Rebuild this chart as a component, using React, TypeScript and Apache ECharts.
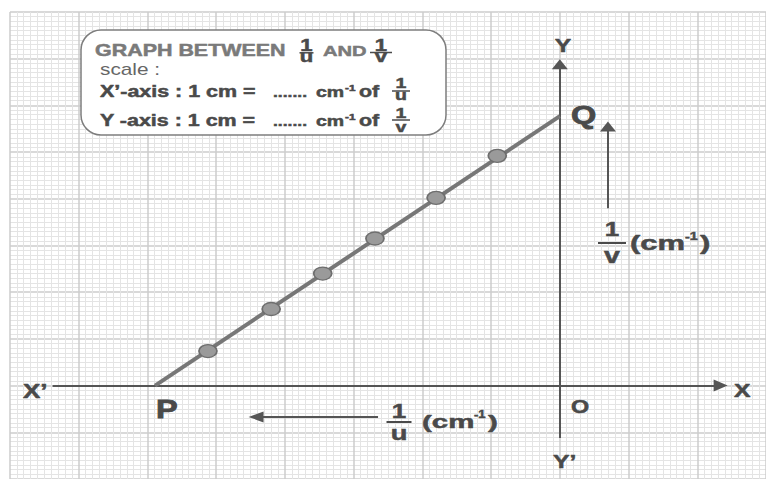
import React, { useEffect, useRef } from 'react';
import * as echarts from 'echarts';

// Axis ranges in grid squares (1 square = 1 cm on the paper)
const xRange = [-8, 3];
const yRange = [-2, 8];

// Intercepts of the best-fit line
const pointP = [-5.89, 0];
const pointQ = [0, 5.77];

// Plotted observations (1/u, 1/v) in grid squares
const obsX = [-5.12, -4.2, -3.45, -2.69, -1.8, -0.91];
const obsY = [0.74, 1.64, 2.4, 3.15, 4.02, 4.92];

// Extents of the drawn X'X and YY' axes
const xAxisSpan = [-7.38, 2.34];
const yAxisSpan = [-1.12, 6.88];

// Direction arrows beside the axis titles
const uArrow = { y: -0.67, from: -2.645, to: -4.42 };
const vArrow = { x: 0.7, from: 3.8, to: 5.55 };

const FONT = '"Liberation Sans", Arial, Helvetica, sans-serif';
const SX = 1.3;
const DARK = '#4a4a4a';

type LabelOpts = { weight?: string; color?: string; align?: string; sx?: number; heavy?: number };

function label(text: string, x: number, baseline: number, fs: number, opts: LabelOpts = {}) {
  const { weight = 'bold', color = DARK, align = 'left', sx = SX, heavy = 0.5 } = opts;
  return {
    type: 'text',
    x,
    y: baseline - 0.3465 * fs,
    scaleX: sx,
    z: 100,
    silent: true,
    style: {
      text,
      fill: color,
      stroke: heavy > 0 ? color : undefined,
      lineWidth: heavy,
      fontSize: fs,
      fontWeight: weight,
      fontFamily: FONT,
      align,
      verticalAlign: 'middle',
      textAlign: align,
      textVerticalAlign: 'middle',
    },
  };
}

function bar(x1: number, x2: number, y: number, lw = 1.5, color = DARK) {
  return {
    type: 'line',
    z: 100,
    silent: true,
    shape: { x1, y1: y, x2, y2: y },
    style: { stroke: color, lineWidth: lw },
  };
}

function fraction(cx: number, numBase: number, barY: number, barW: number, denBase: number, den: string, fs: number, denFs = fs) {
  return [
    label('1', cx, numBase, fs, { align: 'center' }),
    bar(cx - barW / 2, cx + barW / 2, barY, fs > 18 ? 2 : 1.5),
    label(den, cx, denBase, denFs, { align: 'center' }),
  ];
}

function buildGraphics() {
  const els: any[] = [
    {
      type: 'rect',
      z: 99,
      silent: true,
      shape: { x: 81, y: 30, width: 365, height: 105, r: 20 },
      style: { fill: '#ffffff', stroke: '#7d7d7d', lineWidth: 1.5 },
    },
    label('GRAPH BETWEEN', 95, 56, 16.5, { color: '#7a7a7a' }),
    ...fraction(306.5, 51, 52.8, 14, 62, 'u', 17),
    label('AND', 323, 56, 15.5, { color: '#7a7a7a' }),
    ...fraction(381, 51, 52.5, 22, 62, 'v', 17),
    label('scale :', 100, 75, 16, { weight: 'normal', color: '#666666', heavy: 0 }),

    label('X\u2019-axis : 1 cm =', 100, 97, 16.5),
    label('.......', 273, 97, 13.5),
    label('cm', 316, 97, 15),
    label('-1', 345, 91, 9),
    label('of', 359, 97, 16.5),
    ...fraction(401, 88, 91, 18, 100, 'u', 15),

    label('Y -axis : 1 cm =', 100, 126, 16.5),
    label('.......', 273, 126, 13.5),
    label('cm', 316, 126, 15),
    label('-1', 345, 120, 9),
    label('of', 359, 126, 16.5),
    ...fraction(401, 118, 120, 18, 132, 'v', 15),

    // axis letters
    label('Y', 563, 52, 19, { align: 'center' }),
    label('Y\u2019', 553, 468, 19),
    label('X\u2019', 23, 398, 20),
    label('X', 734, 397, 19),
    label('O', 571, 413, 18),
    label('P', 156, 418, 25, { heavy: 0.8 }),
    label('Q', 571, 124, 25, { heavy: 0.8 }),

    // 1/v (cm^-1)
    ...fraction(612, 236, 243, 28, 263, 'v', 20, 22),
    label('(cm', 630, 250, 20, { sx: 1.55 }),
    label('-1', 685, 240, 11),
    label(')', 700, 250, 20, { sx: 1.55 }),

    // 1/u (cm^-1)
    ...fraction(399, 418, 422, 25, 440, 'u', 20, 21),
    label('(cm', 422, 428, 19, { sx: 1.55 }),
    label('-1', 474, 418, 10),
    label(')', 488, 428, 19, { sx: 1.55 }),
  ];
  return els;
}

function arrowLine(from: number[], to: number[], head: number[]) {
  return [{ coord: from, symbol: 'none' }, { coord: to, symbol: 'triangle', symbolSize: head }];
}

export default function App() {
  const ref = useRef<HTMLDivElement>(null);

  useEffect(() => {
    document.body.style.margin = '0';
    if (!ref.current) return;
    const chart = echarts.init(ref.current, undefined, { renderer: 'svg' });

    const splitMajor = { show: true, lineStyle: { color: '#cdcdcd', width: 1.5 } };
    const splitMinor = { show: true, lineStyle: { color: '#e4e4e4', width: 1 } };

    chart.setOption({
      animation: false,
      backgroundColor: '#ffffff',
      grid: { left: 10, top: 12, width: 760, height: 472.5, containLabel: false },
      xAxis: {
        type: 'value',
        min: xRange[0],
        max: xRange[1],
        interval: 1,
        axisLine: { show: false },
        axisTick: { show: false },
        axisLabel: { show: false },
        splitLine: splitMajor,
        minorTick: { show: false, splitNumber: 10 },
        minorSplitLine: splitMinor,
      },
      yAxis: {
        type: 'value',
        min: yRange[0],
        max: yRange[1],
        interval: 1,
        axisLine: { show: false },
        axisTick: { show: false },
        axisLabel: { show: false },
        splitLine: splitMajor,
        minorTick: { show: false, splitNumber: 10 },
        minorSplitLine: splitMinor,
      },
      series: [
        {
          type: 'line',
          name: 'axes',
          data: [],
          z: 5,
          silent: true,
          markLine: {
            silent: true,
            animation: false,
            symbol: ['none', 'triangle'],
            label: { show: false },
            lineStyle: { color: '#555555', width: 2, type: 'solid' },
            emphasis: { disabled: true },
            data: [
              arrowLine([xAxisSpan[0], 0], [xAxisSpan[1], 0], [12, 14]),
              arrowLine([0, yAxisSpan[0]], [0, yAxisSpan[1]], [16, 10]),
              arrowLine([uArrow.from, uArrow.y], [uArrow.to, uArrow.y], [11, 15]),
              arrowLine([vArrow.x, vArrow.from], [vArrow.x, vArrow.to], [16, 10]),
            ],
          },
        },
        {
          type: 'line',
          name: 'PQ',
          data: [pointP, pointQ],
          showSymbol: false,
          z: 6,
          silent: true,
          lineStyle: { color: '#777777', width: 4 },
        },
        {
          type: 'scatter',
          name: 'readings',
          data: obsX.map((x, i) => [x, obsY[i]]),
          z: 7,
          silent: true,
          symbol: 'path://M0 10A10 10 0 1 1 20 10A10 10 0 1 1 0 10Z',
          symbolSize: [18, 13],
          itemStyle: { color: '#9a9a9a', borderColor: '#6e6e6e', borderWidth: 1.5, opacity: 1 },
        },
      ],
      graphic: { elements: buildGraphics() },
    });

    return () => chart.dispose();
  }, []);

  return <div ref={ref} style={{ width: 766, height: 479 }} />;
}
